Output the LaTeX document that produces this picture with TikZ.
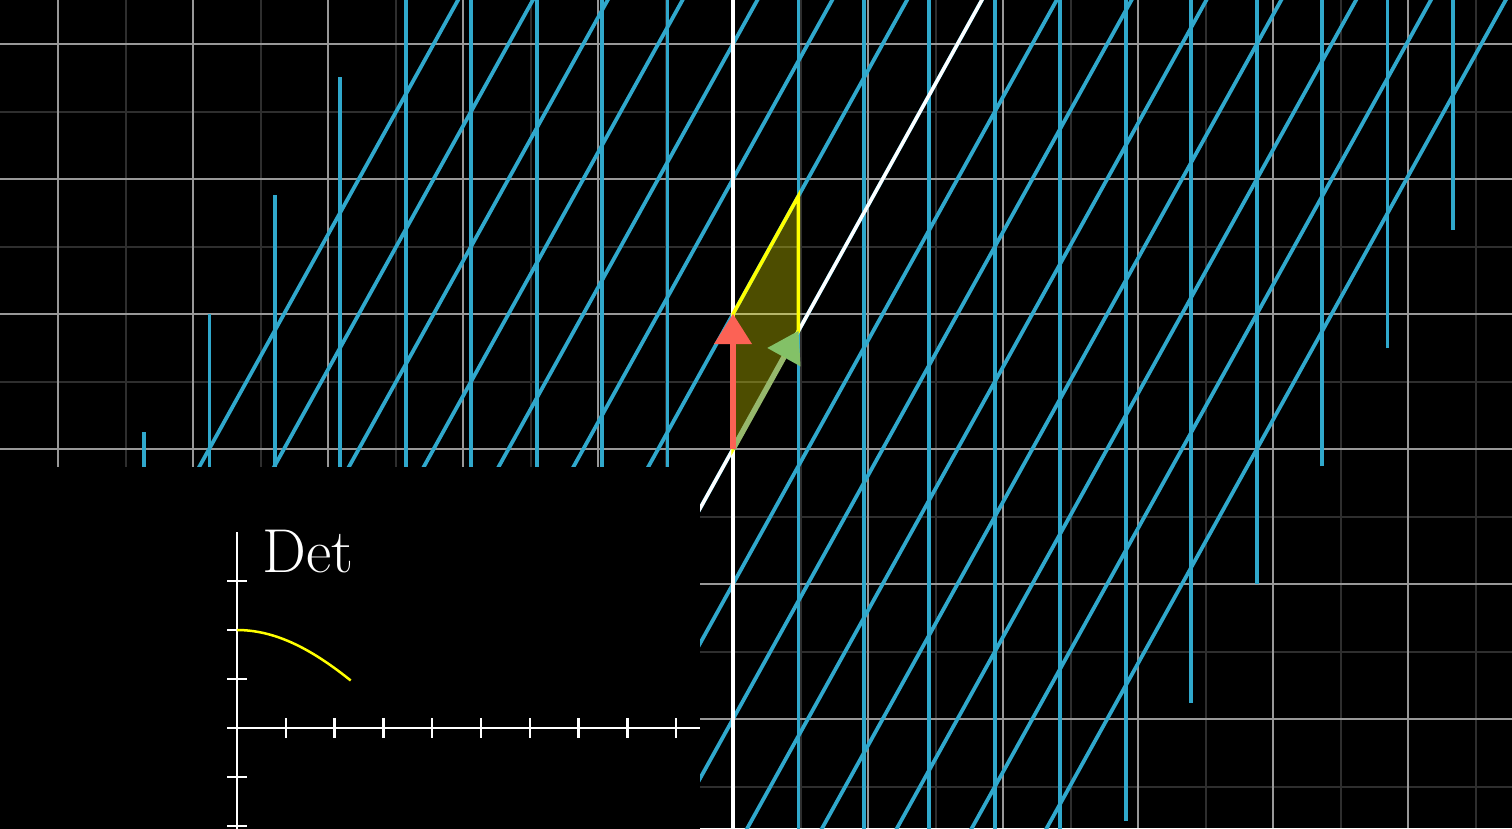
\documentclass[tikz,border=0pt]{standalone}
\usepackage{fontspec}
\usetikzlibrary{calc}
\definecolor{gridmajor}{RGB}{152,152,152}
\definecolor{gridminor}{RGB}{46,46,46}
\definecolor{bluegrid}{RGB}{48,168,204}
\definecolor{vecred}{RGB}{252,98,85}
\definecolor{vecgreen}{RGB}{131,193,103}
\definecolor{greenshaft}{RGB}{150,184,108}
\definecolor{areayellow}{RGB}{255,255,0}
\tikzset{
  majorline/.style={draw=gridmajor, line width=2pt},
  minorline/.style={draw=gridminor, line width=2pt},
  planeline/.style={draw=bluegrid, line width=3.8pt},
  planeaxis/.style={draw=white, line width=3.5pt},
  areafill/.style={fill=areayellow, fill opacity=0.3},
  areaedge/.style={draw=areayellow, line width=3.5pt},
  redshaft/.style={draw=vecred, line width=5.5pt},
  greenshaftline/.style={draw=greenshaft, line width=5.5pt},
  insetaxis/.style={draw=white, line width=2.5pt},
  detcurve/.style={draw=areayellow, line width=2.5pt},
  detlabelstyle/.style={text=white, inner sep=0pt, anchor=base west, font=\fontsize{62}{66}\selectfont}
}
\begin{document}
\begin{tikzpicture}[x=1pt,y=-1pt]
\useasboundingbox (0,0) rectangle (1512,828);
\fill[black] (0,0) rectangle (1512,828);
\begin{scope}
\clip (0,0) rectangle (1512,828);
% background grid: minor lines
\foreach \n in {-6,...,5} \draw[minorline] ({800.5+135*\n},0) -- ++(0,828);
\foreach \n in {-4,...,2} \draw[minorline] (0,{516.5+135*\n}) -- ++(1512,0);
% background grid: major lines
\foreach \n in {-5,...,5} \draw[majorline] ({733+135*\n},0) -- ++(0,828);
\foreach \n in {-3,...,2} \draw[majorline] (0,{449+135*\n}) -- ++(1512,0);
% transformed plane
\begin{scope}[x={(65.45pt,118.07pt)}, y={(0pt,135pt)}, shift={(733pt,-449pt)}]
  \foreach \k in {-12,...,12} \draw[planeline] (\k,-8) -- (\k,8);
  \foreach \j in {-7,...,7} \draw[planeline] (-15,\j) -- (15,\j);
  \draw[planeaxis] (0,-8) -- (0,8);
  \draw[planeaxis] (-15,0) -- (15,0);
  \coordinate (O) at (0,0);
  \coordinate (I) at (1,0);
  \coordinate (J) at (0,1);
  \coordinate (IJ) at (1,1);
\end{scope}
% unit area
\fill[areafill] (O) -- (I) -- (IJ) -- (J) -- cycle;
\draw[areaedge] (O) -- (I) -- (IJ) -- (J) -- cycle;
% basis vectors
\coordinate (Ib) at ($(I)!30pt!(O)$);
\coordinate (Jb) at ($(J)!30pt!(O)$);
\draw[greenshaftline] (O) -- (Ib);
\fill[vecgreen] (I) -- ($(Ib)!19pt!90:(I)$) -- ($(Ib)!19pt!-90:(I)$) -- cycle;
\draw[redshaft] (O) -- (Jb);
\fill[vecred] (J) -- ($(Jb)!19pt!90:(J)$) -- ($(Jb)!19pt!-90:(J)$) -- cycle;
% inset
\fill[black] (-10,467) rectangle (700,845);
\draw[insetaxis] (237,532) -- (237,835);
\draw[insetaxis] (227,728) -- (700,728);
\foreach \n in {1,...,9} \draw[insetaxis] ({237+48.8*\n},718) -- ++(0,20);
\foreach \n in {-2,-1,1,2,3} \draw[insetaxis] (227,{728-49*\n}) -- ++(20,0);
\draw[detcurve] plot[domain=0:61, samples=40, smooth] ({237+113.7*\x/61},{728-98*cos(\x)});
\node[detlabelstyle] (detlabel) at (262,572) {Det};
\end{scope}
\end{tikzpicture}
\end{document}
